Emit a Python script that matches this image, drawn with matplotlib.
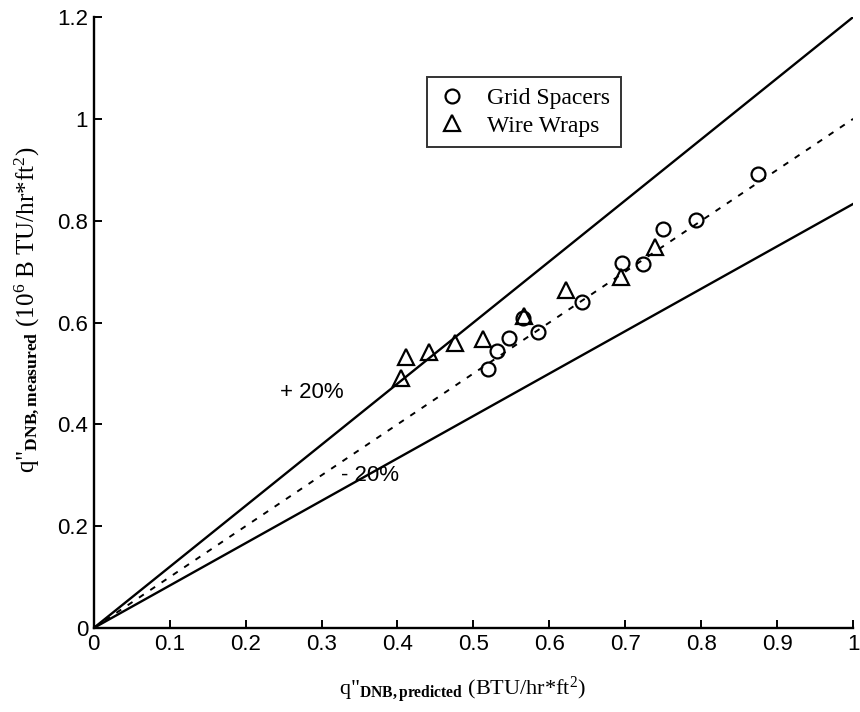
import matplotlib
matplotlib.use('Agg')
import matplotlib.pyplot as plt
import numpy as np

plt.rcParams['mathtext.fontset'] = 'custom'
plt.rcParams['mathtext.rm'] = 'Liberation Serif'
plt.rcParams['mathtext.it'] = 'Liberation Serif:italic'
plt.rcParams['mathtext.bf'] = 'Liberation Serif:bold'

# reference lines
line_x = [0.0, 1.0]
plus20 = [0.0, 1.2]
minus20 = [0.0, 0.833]
ideal = [0.0, 1.0]

# grid spacers
grid_pred = [0.519, 0.531, 0.547, 0.565, 0.585, 0.643, 0.696, 0.723, 0.750, 0.793, 0.875]
grid_meas = [0.509, 0.544, 0.570, 0.608, 0.582, 0.641, 0.716, 0.715, 0.784, 0.802, 0.891]

# wire wraps
wire_pred = [0.404, 0.411, 0.441, 0.476, 0.512, 0.567, 0.622, 0.694, 0.739]
wire_meas = [0.491, 0.533, 0.543, 0.559, 0.567, 0.613, 0.664, 0.690, 0.749]

xticks = np.linspace(0, 1, 11)
yticks = np.linspace(0, 1.2, 7)
xticklabels = ['0', '0.1', '0.2', '0.3', '0.4', '0.5', '0.6', '0.7', '0.8', '0.9', '1']
yticklabels = ['0', '0.2', '0.4', '0.6', '0.8', '1', '1.2']

fig = plt.figure(figsize=(8.6, 7.12), dpi=100)
ax = fig.add_axes([0.109, 0.118, 0.883, 0.858])

ax.plot(line_x, plus20, 'k-', lw=1.7)
ax.plot(line_x, minus20, 'k-', lw=1.7)
ax.plot(line_x, ideal, 'k--', lw=1.4, dashes=(3, 4))

ax.plot(grid_pred, grid_meas, 'o', ms=10, mfc='none', mec='k', mew=1.6,
        label='Grid Spacers')
ax.plot(wire_pred, wire_meas, '^', ms=12, mfc='none', mec='k', mew=1.6,
        label='Wire Wraps')

ax.text(0.245, 0.462, '+ 20%', fontsize=16, family='Liberation Sans', va='center')
ax.text(0.326, 0.30, '- 20%', fontsize=16, family='Liberation Sans', va='center')

ax.set_xlim(0, 1)
ax.set_ylim(0, 1.2)
ax.set_xticks(xticks)
ax.set_xticklabels(xticklabels)
ax.set_yticks(yticks)
ax.set_yticklabels(yticklabels)
ax.tick_params(direction='in', length=6, width=1.4, labelsize=16, pad=4)
for lab in ax.get_xticklabels() + ax.get_yticklabels():
    lab.set_family('Liberation Sans')

ax.spines['top'].set_visible(False)
ax.spines['right'].set_visible(False)
ax.spines['left'].set_linewidth(1.7)
ax.spines['bottom'].set_linewidth(1.7)

ax.set_xlabel('q"$_{\\mathbf{DNB,predicted}}$ (BTU/hr*ft$^2$)',
              fontsize=16, family='Liberation Serif')
ax.xaxis.set_label_coords(0.485, -0.075)
ax.set_ylabel('q"$_{\\mathbf{DNB,measured}}$ (10$^6$ B TU/hr*ft$^2$)',
              fontsize=18, family='Liberation Serif')
ax.yaxis.set_label_coords(-0.068, 0.52)

leg = ax.legend(loc='upper left', bbox_to_anchor=(0.439, 0.902), frameon=True,
                fancybox=False, edgecolor='k', prop={'family': 'Liberation Serif', 'size': 17},
                handlelength=1.2, borderpad=0.45, labelspacing=0.25, handletextpad=0.9,
                borderaxespad=0)
leg.get_frame().set_linewidth(1.4)

fig.savefig('out.png', dpi=100)
